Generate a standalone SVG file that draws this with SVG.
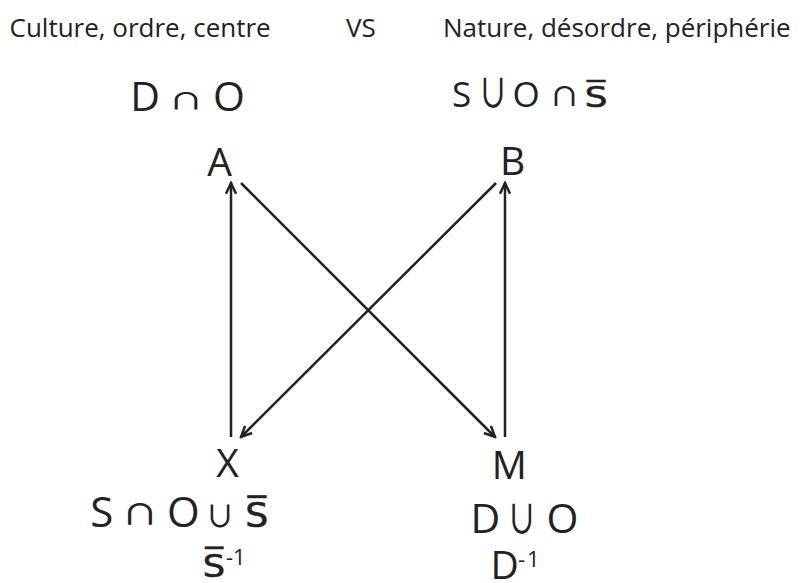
<svg xmlns="http://www.w3.org/2000/svg" width="802" height="583" viewBox="0 0 802 583">
<defs>
<style>
.t{font-family:"Open Sans","DejaVu Sans",sans-serif;fill:#222}
.m{font-family:"Noto Sans CJK JP","DejaVu Sans",sans-serif;fill:#222;font-weight:500}
.ov{font-family:"DejaVu Sans",sans-serif;fill:#222;stroke:#222;stroke-width:0.6}
.c{stroke:#222;stroke-width:2.5;fill:none}
</style>
<marker id="arr" markerWidth="14" markerHeight="14" refX="12" refY="7" orient="auto" markerUnits="userSpaceOnUse">
<path d="M1.3,2 L12,7 L1.3,12" fill="none" stroke="#222" stroke-width="2.5"/>
</marker>
</defs>
<rect width="802" height="583" fill="#fff"/>
<g id="titles">
<text class="t" x="9.5" y="37.3" font-size="26">Culture, ordre, centre</text>
<text class="t" x="346" y="37.3" font-size="26">VS</text>
<text class="t" x="443" y="37.3" font-size="26">Nature, désordre, périphérie</text>
</g>
<g id="connectors">
<line class="c" x1="231" y1="437" x2="231" y2="183" marker-end="url(#arr)"/>
<line class="c" x1="505" y1="437" x2="505" y2="183" marker-end="url(#arr)"/>
<line class="c" x1="241" y1="183" x2="495" y2="437" marker-end="url(#arr)"/>
<line class="c" x1="496" y1="183" x2="241" y2="437" marker-end="url(#arr)"/>
</g>
<g id="node-A">
<text class="t" x="219.5" y="176" font-size="39" text-anchor="middle">A</text>
<text class="t" font-size="41" text-anchor="middle"><tspan x="145" y="110.7">D</tspan><tspan x="229" y="110.7">O</tspan></text>
<text class="m" font-size="35" text-anchor="middle" transform="translate(186,109) scale(1,0.65)">∩</text>
</g>
<g id="node-B">
<text class="t" x="512.7" y="175" font-size="39" text-anchor="middle">B</text>
<text class="t" font-size="35" text-anchor="middle"><tspan x="461.5" y="107">S</tspan><tspan x="526" y="107">O</tspan></text>
<text class="m" font-size="29" text-anchor="middle" transform="translate(493,107) scale(1,1.35)">∪</text>
<text class="m" font-size="30.5" text-anchor="middle" transform="translate(564.5,106) scale(1,0.85)">∩</text>
<text class="ov" font-size="27.5" text-anchor="middle" transform="translate(596,107) scale(1.3,1)">S̅</text>
</g>
<g id="node-X">
<text class="t" x="227.5" y="477" font-size="39" text-anchor="middle">X</text>
<text class="t" font-size="42" text-anchor="middle"><tspan x="101.7" y="527">S</tspan><tspan x="183.3" y="527">O</tspan></text>
<text class="m" font-size="37" text-anchor="middle" transform="translate(140,525) scale(1,0.78)">∩</text>
<text class="m" font-size="29" text-anchor="middle" transform="translate(220,527) scale(1,1.02)">∪</text>
<text class="ov" font-size="33" text-anchor="middle" transform="translate(256.7,527) scale(1.1,1)">S̅</text>
<text class="ov" font-size="32" text-anchor="middle" transform="translate(214,577) scale(1.1,1)">S̅</text>
<text class="t" x="226" y="565" font-size="22">-1</text>
</g>
<g id="node-M">
<text class="t" x="509.3" y="479" font-size="39" text-anchor="middle">M</text>
<text class="t" font-size="41" text-anchor="middle"><tspan x="485.3" y="533">D</tspan><tspan x="562.5" y="533">O</tspan></text>
<text class="m" font-size="29" text-anchor="middle" transform="translate(521.7,533) scale(1,1.35)">∪</text>
<text class="t" x="504.7" y="579" font-size="39" text-anchor="middle">D</text>
<text class="t" x="518" y="567" font-size="22" letter-spacing="2">-1</text>
</g>
</svg>
